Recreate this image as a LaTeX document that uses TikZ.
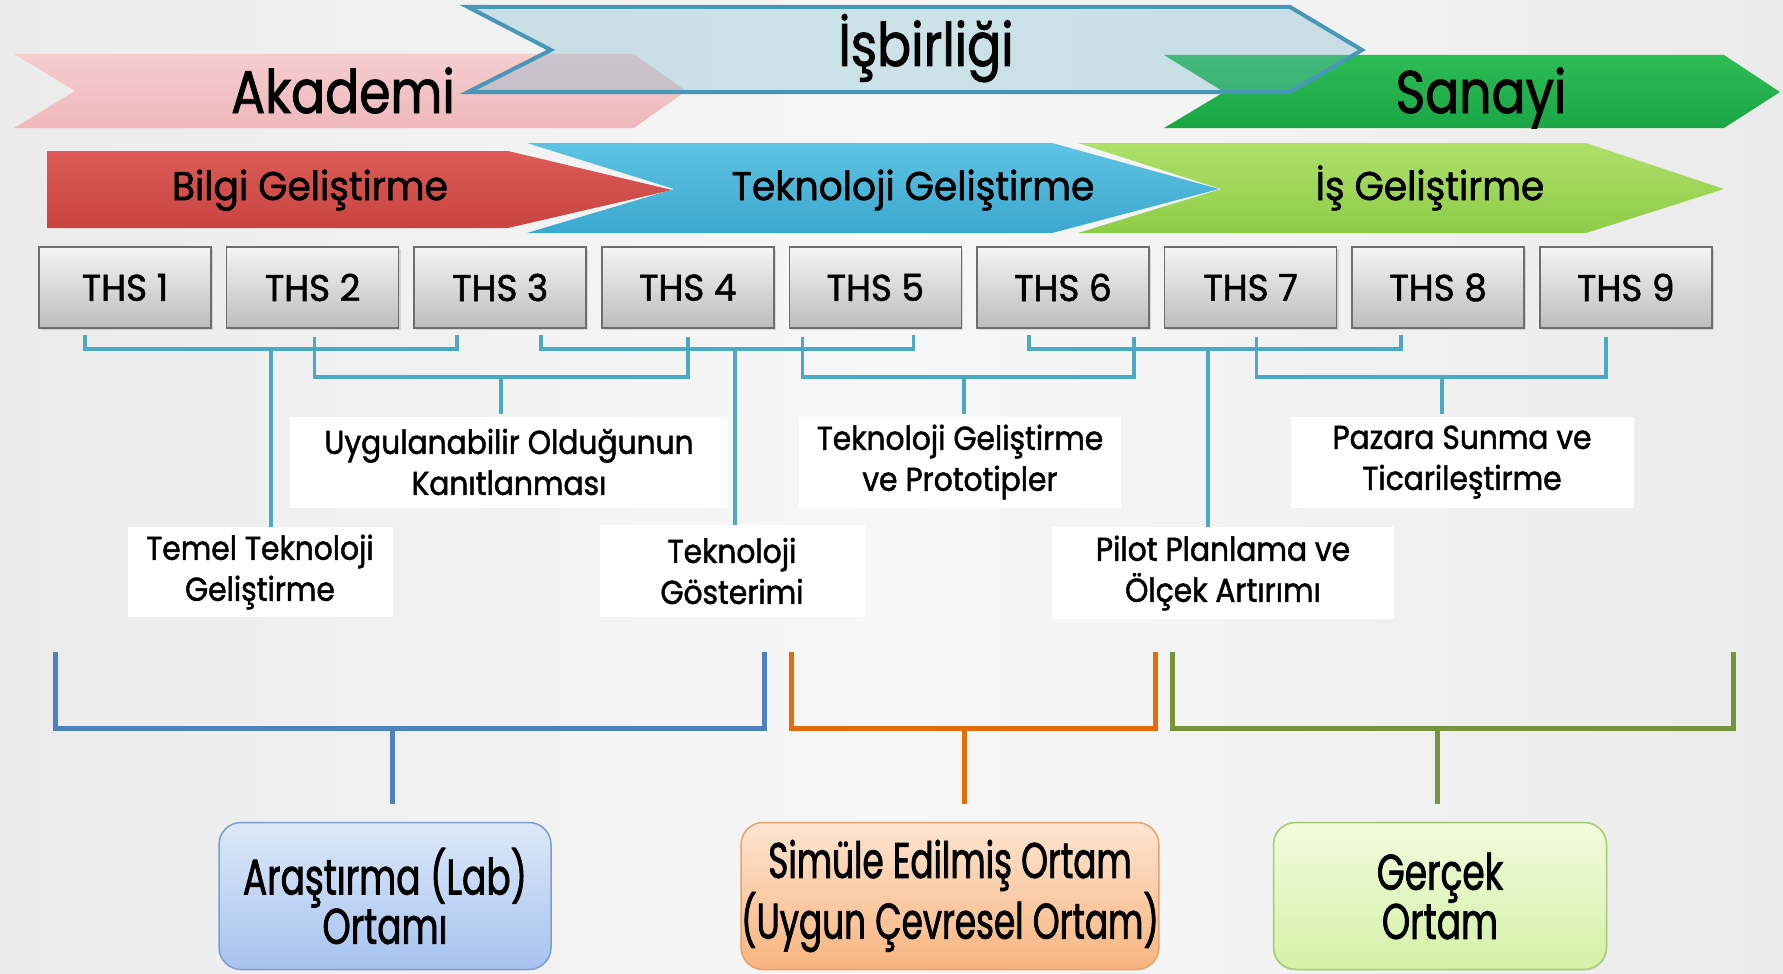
\documentclass[tikz,border=0pt]{standalone}
\usepackage{fontspec}
\setmainfont[FakeStretch=0.78]{Poppins}
\newfontfamily\fBig[FakeStretch=0.84,FakeBold=1.5]{Poppins}
\newfontfamily\fPhase[FakeStretch=0.94,FakeBold=1.5]{Poppins}
\newfontfamily\fThs[FakeStretch=0.97,FakeBold=1.5]{Poppins}
\newfontfamily\fLbl[FakeStretch=0.90,FakeBold=1.5]{Poppins}
\newfontfamily\fEnv[FakeStretch=0.72,FakeBold=1.5]{Poppins}
\newfontfamily\fEnvN[FakeStretch=0.685,FakeBold=1.5]{Poppins}
\usetikzlibrary{calc,shadows}
\definecolor{bgA}{HTML}{EBEBEB}
\definecolor{bgB}{HTML}{F7F7F7}
\definecolor{pinkT}{HTML}{F6CDCF}
\definecolor{pinkB}{HTML}{EFB8BA}
\definecolor{isbFill}{HTML}{73B5CB}
\definecolor{isbLine}{HTML}{4798B8}
\definecolor{sanT}{HTML}{2DBB55}
\definecolor{sanB}{HTML}{1AA646}
\definecolor{redT}{HTML}{DC5B57}
\definecolor{redB}{HTML}{C84440}
\definecolor{bluT}{HTML}{5EC3E3}
\definecolor{bluB}{HTML}{3CA8CE}
\definecolor{grnT}{HTML}{AEE06A}
\definecolor{grnB}{HTML}{8ECC48}
\definecolor{teal}{HTML}{4BA8C6}
\definecolor{brBlue}{HTML}{4F81BD}
\definecolor{brOrange}{HTML}{E46C0A}
\definecolor{brGreen}{HTML}{77933C}
\definecolor{thsT}{HTML}{F4F4F4}
\definecolor{thsB}{HTML}{BDBDBD}
\definecolor{thsL}{HTML}{6E6E6E}
\definecolor{envBlueT}{HTML}{DCE8F9}
\definecolor{envBlueB}{HTML}{A6C3EF}
\definecolor{envBlueL}{HTML}{7C9CD0}
\definecolor{envOrT}{HTML}{FDE4D0}
\definecolor{envOrB}{HTML}{F8B47F}
\definecolor{envOrL}{HTML}{E9A06B}
\definecolor{envGrT}{HTML}{F1FBDE}
\definecolor{envGrB}{HTML}{D3F1A6}
\definecolor{envGrL}{HTML}{A2C96E}
\tikzset{
  bigtxt/.style={anchor=base, inner sep=0pt, font=\fBig\fontsize{60}{70}\selectfont, text=black},
  phasetxt/.style={anchor=base, inner sep=0pt, font=\fPhase\fontsize{40}{48}\selectfont, text=black},
  thsbox/.style={draw=thsL, line width=1.5pt, top color=thsT, bottom color=thsB,
     minimum width=172pt, minimum height=81pt, inner sep=0pt,
     font=\fThs\fontsize{37}{44}\selectfont,
     drop shadow={opacity=0.25, shadow xshift=2pt, shadow yshift=-2pt}},
  lbl/.style={fill=white, inner sep=0pt, align=center, font=\fLbl\fontsize{33}{41}\selectfont},
  br/.style={draw=teal, line width=3.5pt},
  bb/.style={line width=5pt},
  envbox/.style={rounded corners=22pt, line width=1.5pt, align=center, inner sep=0pt,
     minimum width=#1, minimum height=147pt, font=\fEnv\fontsize{50}{47}\selectfont},
}
\begin{document}
\begin{tikzpicture}[x=1pt,y=-1pt]
\useasboundingbox (0,0) rectangle (1783,974);
\shade[left color=bgA, right color=bgA, middle color=bgB] (0,0) rectangle (1783,974);

% ---- top row: Akademi, Sanayi, Isbirligi
\path[top color=pinkT, bottom color=pinkB]
  (14,54) -- (634,54) -- (686,91) -- (634,128) -- (14,128) -- (75,91) -- cycle;
\node[bigtxt] (akademi) at (343,113) {Akademi};
\path[top color=sanT, bottom color=sanB]
  (1164,55) -- (1724,55) -- (1780,92) -- (1724,128) -- (1164,128) -- (1224,92) -- cycle;
\node[bigtxt] (sanayi) at (1481,113) {Sanayi};
\path[fill=isbFill, fill opacity=0.32, draw=isbLine, line width=4pt, line join=miter]
  (468,7) -- (1290,7) -- (1362,50) -- (1290,92) -- (468,92) -- (551,50) -- cycle;
\node[bigtxt] (isb) at (926,66) {İşbirliği};

% ---- phase arrows
\path[top color=redT, bottom color=redB]
  (47,151) -- (508,151) -- (672,190) -- (508,228) -- (47,228) -- cycle;
\node[phasetxt] (bilgi) at (310,200) {Bilgi Geliştirme};
\path[top color=bluT, bottom color=bluB]
  (527,143) -- (1052,143) -- (1219,189) -- (1052,233) -- (527,233) -- (674,189) -- cycle;
\node[phasetxt] (tekgel) at (913,200) {Teknoloji Geliştirme};
\path[top color=grnT, bottom color=grnB]
  (1078,143) -- (1586,143) -- (1724,189) -- (1586,233) -- (1078,233) -- (1221,189) -- cycle;
\node[phasetxt] (isgel) at (1430,200) {İş Geliştirme};

% ---- THS boxes
\foreach \i in {1,...,9}{
  \node[thsbox] (ths\i) at ({125+187.6*(\i-1)},287.5) {THS \i};
}

% ---- labels
\node[lbl, minimum width=265pt, minimum height=90pt] (temel) at (260,572) {Temel Teknoloji\\Geliştirme};
\node[lbl, minimum width=438pt, minimum height=91pt] (uyg) at (509,462) {Uygulanabilir Olduğunun\\Kanıtlanması};
\node[lbl, minimum width=265pt, minimum height=92pt] (gost) at (732,571) {Teknoloji\\Gösterimi};
\node[lbl, minimum width=322pt, minimum height=91pt] (prot) at (960,462) {Teknoloji Geliştirme\\ve Prototipler};
\node[lbl, minimum width=342pt, minimum height=92pt] (pilot) at (1223,573) {Pilot Planlama ve\\Ölçek Artırımı};
\node[lbl, minimum width=343pt, minimum height=91pt] (pazara) at (1462,462) {Pazara Sunma ve\\Ticarileştirme};

% ---- teal brackets
\coordinate (m1) at (271,349);
\coordinate (m2) at (501,377);
\coordinate (m3) at (735,349);
\coordinate (m4) at (964,377);
\coordinate (m5) at (1208,349);
\coordinate (m6) at (1442,377);
\draw[br] ([shift={(-40,6)}]ths1.south) |- (m1) -| ([shift={(-43,6)}]ths3.south);
\draw[br] (m1) -- (m1 |- temel.north);
\draw[br] ([shift={(2,8)}]ths2.south) |- (m2) -| ([shift={(0,8)}]ths4.south);
\draw[br] (m2) -- ($(m2 |- uyg.north)+(0,-2)$);
\draw[br] ([shift={(41,6)}]ths3.south) |- (m3) -| ([shift={(38,6)}]ths5.south);
\draw[br] (m3) -- (m3 |- gost.north);
\draw[br] ([shift={(-73,8)}]ths5.south) |- (m4) -| ([shift={(71,8)}]ths6.south);
\draw[br] (m4) -- ($(m4 |- prot.north)+(0,-2)$);
\draw[br] ([shift={(-34,6)}]ths6.south) |- (m5) -| ([shift={(-37,6)}]ths8.south);
\draw[br] (m5) -- (m5 |- pilot.north);
\draw[br] ([shift={(6,8)}]ths7.south) |- (m6) -| ([shift={(-20,8)}]ths9.south);
\draw[br] (m6) -- ($(m6 |- pazara.north)+(0,-2)$);

% ---- environment boxes
\node[envbox=332pt, draw=envBlueL, top color=envBlueT, bottom color=envBlueB] (lab) at (385,896) {Araştırma (Lab)\\Ortamı};
\node[envbox=409pt, draw=envOrL, top color=envOrT, bottom color=envOrB, font=\fEnvN\fontsize{50}{47}\selectfont] (sim) at (950,896) {Simüle Edilmiş Ortam\\(Uygun Çevresel Ortam)};
\node[envbox=333pt, draw=envGrL, top color=envGrT, bottom color=envGrB] (real) at (1440,896) {Gerçek\\Ortam};

% ---- environment brackets
\coordinate (eb1a) at (55,652);  \coordinate (eb1m) at (392,728);  \coordinate (eb1b) at (764,652);
\coordinate (eb2a) at (791,652); \coordinate (eb2m) at (964,728);  \coordinate (eb2b) at (1155,652);
\coordinate (eb3a) at (1172,652);\coordinate (eb3m) at (1437,728); \coordinate (eb3b) at (1733,652);
\draw[bb, brBlue] (eb1a) |- (eb1m) -| (eb1b);
\draw[bb, brBlue] (eb1m) -- ($(eb1m |- lab.north)+(0,-18)$);
\draw[bb, brOrange] (eb2a) |- (eb2m) -| (eb2b);
\draw[bb, brOrange] (eb2m) -- ($(eb2m |- sim.north)+(0,-18)$);
\draw[bb, brGreen] (eb3a) |- (eb3m) -| (eb3b);
\draw[bb, brGreen] (eb3m) -- ($(eb3m |- real.north)+(0,-18)$);
\end{tikzpicture}
\end{document}
